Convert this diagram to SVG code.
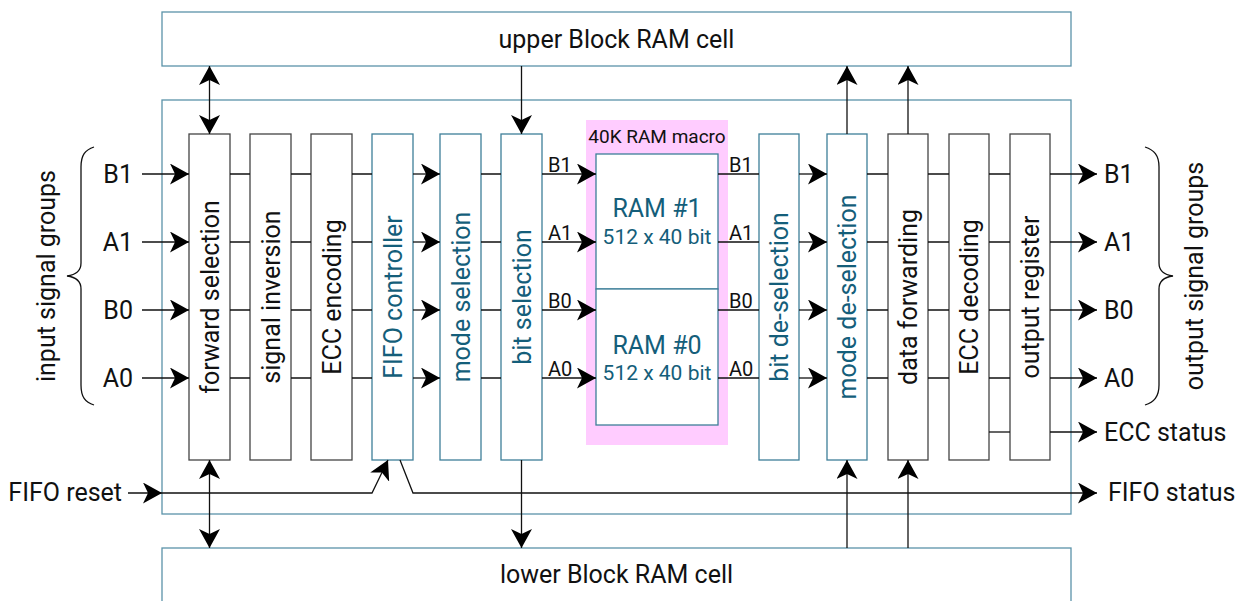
<svg xmlns="http://www.w3.org/2000/svg" width="1239" height="601" viewBox="0 0 1239 601">
<style>
text{font-family:Roboto,"Liberation Sans",sans-serif;fill:#111}
.big{font-size:25px}
.mid{font-size:21px}
.sm{font-size:20px}
.teal{fill:#145e7a}
.box{fill:#fff;stroke:#444;stroke-width:1.3}
.tbox{fill:#fff;stroke:#3e7f99;stroke-width:1.3}
.outer{fill:#fff;stroke:#5b93a9;stroke-width:1.3}
.ln{fill:none;stroke:#111;stroke-width:1.3}
.ar{fill:none;stroke:#111;stroke-width:1.3;marker-end:url(#ah)}
.dar{fill:none;stroke:#111;stroke-width:1.3;marker-end:url(#ah);marker-start:url(#ah)}
</style>
<defs>
<marker id="ah" viewBox="0 0 19 21" refX="19" refY="10.5" markerWidth="19" markerHeight="21" orient="auto-start-reverse" markerUnits="userSpaceOnUse"><path d="M0,0 L19,10.5 L0,21 L5,10.5 z" fill="#000"/></marker>
</defs>
<rect width="1239" height="601" fill="#fff"/>

<g id="upper-bram"><rect class="outer" x="162" y="12" width="909" height="54"/><text class="big" x="616.5" y="48" text-anchor="middle">upper Block RAM cell</text></g>
<g id="lower-bram"><rect class="outer" x="162" y="548" width="909" height="80"/><text class="big" x="616.5" y="583" text-anchor="middle">lower Block RAM cell</text></g>
<g id="container"><rect class="outer" x="162" y="100" width="909" height="414"/></g>

<g id="ram-macro">
<rect x="586" y="120" width="142" height="325" fill="#ffccff"/>
<text x="657" y="143" text-anchor="middle" style="font-size:19px">40K RAM macro</text>
</g>
<g id="ram1"><rect class="tbox" x="596" y="154" width="122" height="135"/>
<text class="big teal" x="657" y="217" text-anchor="middle">RAM #1</text>
<text class="mid teal" x="657" y="243.5" text-anchor="middle">512 x 40 bit</text></g>
<g id="ram0"><rect class="tbox" x="596" y="289" width="122" height="136"/>
<text class="big teal" x="657" y="353.5" text-anchor="middle">RAM #0</text>
<text class="mid teal" x="657" y="380" text-anchor="middle">512 x 40 bit</text></g>

<g id="col-forward-selection"><rect class="box" x="189" y="134" width="41" height="326"/><text class="big" transform="translate(218.5,297) rotate(-90)" text-anchor="middle">forward selection</text></g>
<g id="col-signal-inversion"><rect class="box" x="250" y="134" width="41" height="326"/><text class="big" transform="translate(279.5,297) rotate(-90)" text-anchor="middle">signal inversion</text></g>
<g id="col-ecc-encoding"><rect class="box" x="311" y="134" width="41" height="326"/><text class="big" transform="translate(340.5,297) rotate(-90)" text-anchor="middle">ECC encoding</text></g>
<g id="col-fifo-controller"><rect class="tbox" x="372" y="134" width="41" height="326"/><text class="big teal" transform="translate(401.5,297) rotate(-90)" text-anchor="middle">FIFO controller</text></g>
<g id="col-mode-selection"><rect class="tbox" x="440" y="134" width="41" height="326"/><text class="big teal" transform="translate(469.5,297) rotate(-90)" text-anchor="middle">mode selection</text></g>
<g id="col-bit-selection"><rect class="tbox" x="501" y="134" width="41" height="326"/><text class="big teal" transform="translate(530.5,297) rotate(-90)" text-anchor="middle">bit selection</text></g>
<g id="col-bit-deselection"><rect class="tbox" x="759" y="134" width="40" height="326"/><text class="big teal" transform="translate(788,297) rotate(-90)" text-anchor="middle">bit de-selection</text></g>
<g id="col-mode-deselection"><rect class="tbox" x="827" y="134" width="40" height="326"/><text class="big teal" transform="translate(856,297) rotate(-90)" text-anchor="middle">mode de-selection</text></g>
<g id="col-data-forwarding"><rect class="box" x="888" y="134" width="40" height="326"/><text class="big" transform="translate(917,297) rotate(-90)" text-anchor="middle">data forwarding</text></g>
<g id="col-ecc-decoding"><rect class="box" x="949" y="134" width="40" height="326"/><text class="big" transform="translate(978,297) rotate(-90)" text-anchor="middle">ECC decoding</text></g>
<g id="col-output-register"><rect class="box" x="1010" y="134" width="40" height="326"/><text class="big" transform="translate(1039,297) rotate(-90)" text-anchor="middle">output register</text></g>

<g id="connectors">
<!-- row B1 y=174 -->
<path class="ar" d="M142,174H189"/><path class="ln" d="M230,174H250M291,174H311M352,174H372M481,174H501M718,174H759M867,174H888M928,174H949M989,174H1010"/>
<path class="ar" d="M413,174H440"/><path class="ar" d="M542,174H596"/><path class="ar" d="M799,174H827"/><path class="ar" d="M1050,174H1097"/>
<!-- row A1 y=242 -->
<path class="ar" d="M142,242H189"/><path class="ln" d="M230,242H250M291,242H311M352,242H372M481,242H501M718,242H759M867,242H888M928,242H949M989,242H1010"/>
<path class="ar" d="M413,242H440"/><path class="ar" d="M542,242H596"/><path class="ar" d="M799,242H827"/><path class="ar" d="M1050,242H1097"/>
<!-- row B0 y=310 -->
<path class="ar" d="M142,310H189"/><path class="ln" d="M230,310H250M291,310H311M352,310H372M481,310H501M718,310H759M867,310H888M928,310H949M989,310H1010"/>
<path class="ar" d="M413,310H440"/><path class="ar" d="M542,310H596"/><path class="ar" d="M799,310H827"/><path class="ar" d="M1050,310H1097"/>
<!-- row A0 y=378 -->
<path class="ar" d="M142,378H189"/><path class="ln" d="M230,378H250M291,378H311M352,378H372M481,378H501M718,378H759M867,378H888M928,378H949M989,378H1010"/>
<path class="ar" d="M413,378H440"/><path class="ar" d="M542,378H596"/><path class="ar" d="M799,378H827"/><path class="ar" d="M1050,378H1097"/>
<!-- ECC status -->
<path class="ln" d="M989,432H1010"/><path class="ar" d="M1050,432H1097"/>
<!-- FIFO reset / status -->
<path class="ar" d="M128,493H162"/>
<path class="ar" d="M162,493H372L388,460"/>
<path class="ar" d="M400,460L413,493H1097"/>
<!-- verticals -->
<path class="dar" d="M209.5,66V134"/>
<path class="dar" d="M209.5,460V548"/>
<path class="ar" d="M521.5,66V134"/>
<path class="ar" d="M521.5,460V548"/>
<path class="ar" d="M847,134V66"/>
<path class="ar" d="M908,134V66"/>
<path class="ar" d="M847,548V460"/>
<path class="ar" d="M908,548V460"/>
</g>

<g id="signal-labels">
<text class="sm" x="548" y="172">B1</text><text class="sm" x="548" y="240">A1</text><text class="sm" x="548" y="308">B0</text><text class="sm" x="548" y="376">A0</text>
<text class="sm" x="729" y="172">B1</text><text class="sm" x="729" y="240">A1</text><text class="sm" x="729" y="308">B0</text><text class="sm" x="729" y="376">A0</text>
</g>

<g id="inputs">
<text class="big" x="133" y="183" text-anchor="end">B1</text>
<text class="big" x="133" y="251" text-anchor="end">A1</text>
<text class="big" x="133" y="319" text-anchor="end">B0</text>
<text class="big" x="133" y="387" text-anchor="end">A0</text>
<text class="big" x="122" y="501" text-anchor="end">FIFO reset</text>
<path class="ln" d="M94,147C85,150 81,155 81,167V263C81,271 75,275 67,276C75,277 81,281 81,289V385C81,397 85,402 94,405"/>
<text class="big" transform="translate(55,276) rotate(-90)" text-anchor="middle">input signal groups</text>
</g>

<g id="outputs">
<text class="big" x="1104" y="183">B1</text>
<text class="big" x="1104" y="251">A1</text>
<text class="big" x="1104" y="319">B0</text>
<text class="big" x="1104" y="387">A0</text>
<text class="big" x="1104" y="441">ECC status</text>
<text class="big" x="1108" y="501">FIFO status</text>
<path class="ln" d="M1145,147C1154,150 1159,155 1159,167V263C1159,271 1165,275 1173,276C1165,277 1159,281 1159,289V385C1159,397 1154,402 1145,405"/>
<text class="big" transform="translate(1203,276) rotate(-90)" text-anchor="middle">output signal groups</text>
</g>
</svg>
